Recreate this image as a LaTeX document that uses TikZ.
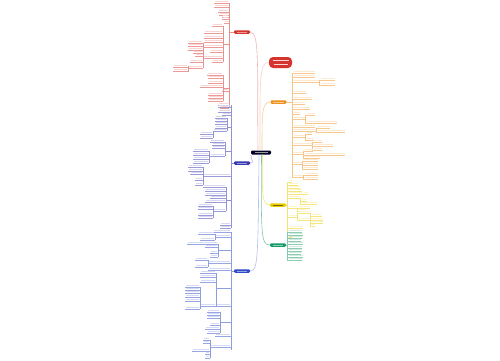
\documentclass[tikz,border=0pt]{standalone}
\definecolor{redc}{RGB}{214,52,46}
\definecolor{bluec}{RGB}{55,55,175}
\definecolor{bluetc}{RGB}{50,75,200}
\definecolor{orc}{RGB}{238,145,30}
\definecolor{yelc}{RGB}{235,205,0}
\definecolor{grc}{RGB}{25,155,105}
\newcommand\LL[4]{\draw[#4!50,line width=0.25pt] (#1,#3) -- (#2,#3);
  \fill[#4!20] (#1+0.5,#3-1.9) rectangle (#2-1.5,#3-0.7);}
\newcommand\RL[4]{\draw[#4!50,line width=0.25pt] (#1,#3) -- (#2,#3);
  \fill[#4!20] (#1+1.5,#3-1.9) rectangle (#2-0.5,#3-0.7);}
\newcommand\SP[4]{\draw[#4!55,line width=0.3pt] (#1,#2) -- (#1,#3);}
\begin{document}
\begin{tikzpicture}[x=1pt,y=-1pt,
  bnode/.style={rounded corners=1.2pt,minimum width=16pt,minimum height=3.5pt,inner sep=0pt},
  conn/.style={line width=0.6pt}]
\useasboundingbox (0,0) rectangle (500,360);
\fill[white] (0,0) rectangle (500,360);

% ---------- main nodes
\node[bnode,fill=black!85!blue,minimum width=20pt,minimum height=4pt] (root) at (261,152.5) {};
\draw[white!60!black,line width=0.35pt] (254.5,152.5) -- (267.5,152.5);
\node[bnode,fill=redc] (red) at (242,32) {};
\node[bnode,fill=orc] (ora) at (278.5,102) {};
\node[bnode,fill=yelc] (yel) at (278,205) {};
\node[bnode,fill=grc] (gre) at (278,245) {};
\node[bnode,fill=bluec] (bl1) at (242,163) {};
\node[bnode,fill=bluetc] (bl2) at (242,271) {};
\node[fill=redc,rounded corners=4pt,minimum width=23pt,minimum height=11pt,inner sep=0pt] (title) at (280.5,62.5) {};
\foreach \n/\c in {red/redc,ora/orc,gre/grc,bl1/bluec,bl2/bluetc}
  \draw[\c!50!white,line width=0.3pt] ([xshift=3pt]\n.west) -- ([xshift=-3pt]\n.east);
\draw[yelc!50!black,line width=0.3pt] ([xshift=3pt]yel.west) -- ([xshift=-3pt]yel.east);
\draw[white!80!redc,line width=0.7pt] (272.5,60.2) -- (288.5,60.2) (273.5,64.6) -- (287.5,64.6);

% ---------- connectors from root
\draw[conn,redc!35] (root.north) ++(-3,0) .. controls (257,70) and (260,32) .. (red.east);
\draw[conn,redc!22] (root.north) ++(-1,0) .. controls (260,80) and (259,62) .. (title.west);
\draw[conn,orc!45] (root.north) ++(1,0) .. controls (262,112) and (262,102) .. (ora.west);
\draw[conn,bluec!35] (root.south west) .. controls (252,162) and (254,163) .. (bl1.east);
\draw[conn,yelc!50] (root.south) ++(1.5,0) .. controls (262,195) and (262,205) .. (yel.west);
\draw[conn,grc!55] (root.south) ++(0.5,0) .. controls (261,235) and (261,245) .. (gre.west);
\draw[conn,bluetc!35] (root.south) ++(-2,0) .. controls (258,260) and (258,271) .. (bl2.east);

% ---------- red subtree
\SP{229}{3}{108}{redc}
\draw[redc!55,line width=0.3pt] (229,32) -- (red.west);
\foreach \a/\b in {214/3,214/7,218/12,219/15,222/17,222/19,224/23,222/91,218/105,220/108} {\LL{\a}{229}{\b}{redc}}
\SP{223}{26}{62}{redc}
\draw[redc!55,line width=0.3pt] (223,44) -- (229,44);
\foreach \a/\b in {212/26,204/33,204/38,204/42,204/47,210/52,212/62} {\LL{\a}{223}{\b}{redc}}
\LL{203}{223}{58}{redc}
\SP{203}{43}{68}{redc}
\foreach \a/\b in {188/43,188/46,188/50,193/53,195/56,190/62,188/68} {\LL{\a}{203}{\b}{redc}}
\SP{188}{66}{72}{redc}
\foreach \a/\b in {173/67,173/71} {\LL{\a}{188}{\b}{redc}}
\SP{223}{75}{101}{redc}
\draw[redc!55,line width=0.3pt] (223,88) -- (229,88);
\foreach \a/\b in {207/75,208/78,208/83,200/87,208/95,208/98,208/101} {\LL{\a}{223}{\b}{redc}}

% ---------- blue subtree 1
\SP{231}{105}{228}{bluec}
\draw[bluec!55,line width=0.3pt] (231,163) -- (bl1.west);
\foreach \a/\b in {218/107,218/112,222/115,203/176,220/225,220/228} {\LL{\a}{231}{\b}{bluec}}
\SP{227}{118}{131}{bluec}
\draw[bluec!55,line width=0.3pt] (227,127) -- (231,127);
\foreach \a/\b in {215/118,215/121,215/124,215/128,213/131} {\LL{\a}{227}{\b}{bluec}}
\SP{213}{131}{138}{bluec}
\foreach \a/\b in {200/134,200/138} {\LL{\a}{213}{\b}{bluec}}
\SP{225}{142}{156}{bluec}
\draw[bluec!55,line width=0.3pt] (225,151) -- (231,151);
\foreach \a/\b in {210/142,212/145,212/148,210/156} {\LL{\a}{225}{\b}{bluec}}
\SP{209}{151}{163}{bluec}
\foreach \a/\b in {193/151,193/155,193/159,193/163} {\LL{\a}{209}{\b}{bluec}}
\SP{203}{167}{185}{bluec}
\foreach \a/\b in {188/167,188/171,190/174,195/180,195/185} {\LL{\a}{203}{\b}{bluec}}
\SP{226}{187}{211}{bluec}
\draw[bluec!55,line width=0.3pt] (226,200) -- (231,200);
\foreach \a/\b in {203/187,205/191,205/195,210/198,205/202,213/211} {\LL{\a}{226}{\b}{bluec}}
\SP{213}{206}{218}{bluec}
\foreach \a/\b in {198/206,198/209,198/215,198/218} {\LL{\a}{213}{\b}{bluec}}

% ---------- blue subtree 2
\SP{231}{232}{350}{bluetc}
\draw[bluetc!55,line width=0.3pt] (231,271) -- (bl2.west);
\foreach \a/\b in {213/232,215/237,208/263,208/270,216/306,215/336,210/347} {\LL{\a}{231}{\b}{bluetc}}
\SP{215}{234}{240}{bluetc}
\foreach \a/\b in {198/234,200/240} {\LL{\a}{215}{\b}{bluetc}}
\SP{218}{244}{257}{bluetc}
\draw[bluetc!55,line width=0.3pt] (218,250) -- (231,250);
\foreach \a/\b in {187/244,205/247,210/253,210/257} {\LL{\a}{218}{\b}{bluetc}}
\SP{208}{260}{267}{bluetc}
\foreach \a/\b in {195/260,195/267} {\LL{\a}{208}{\b}{bluetc}}
\SP{216}{273}{306}{bluetc}
\draw[bluetc!55,line width=0.3pt] (216,288) -- (231,288);
\foreach \a/\b in {200/273,200/277,200/282,200/306} {\LL{\a}{216}{\b}{bluetc}}
\SP{200}{287}{309}{bluetc}
\foreach \a/\b in {185/287,185/290,185/293,185/297,185/301,185/309} {\LL{\a}{200}{\b}{bluetc}}
\SP{220}{312}{333}{bluetc}
\draw[bluetc!55,line width=0.3pt] (220,322) -- (231,322);
\foreach \a/\b in {207/312,207/315,207/318,210/325,205/329,207/333} {\LL{\a}{220}{\b}{bluetc}}
\SP{210}{340}{358}{bluetc}
\foreach \a/\b in {203/340,203/343,192/351,205/354,205/358} {\LL{\a}{210}{\b}{bluetc}}

% ---------- orange subtree
\SP{292}{73}{178}{orc}
\draw[orc!55,line width=0.3pt] (ora.east) -- (292,102);
\foreach \a/\b in {315/73,315/77,319/82,306/93,312/99,305/104,310/109,300/114,305/119,315/127,316/131,305/137,312/145,303/154,302/164,303/177} {\RL{292}{\a}{\b}{orc}}
\SP{319}{80}{85}{orc}
\foreach \a/\b in {335/80,335/85} {\RL{319}{\a}{\b}{orc}}
\SP{305}{115}{123}{orc}
\foreach \a/\b in {315/115,337/123} {\RL{305}{\a}{\b}{orc}}
\SP{316}{128}{132}{orc}
\foreach \a/\b in {330/128,345/132} {\RL{316}{\a}{\b}{orc}}
\SP{305}{134}{140}{orc}
\foreach \a/\b in {312/134,314/140} {\RL{305}{\a}{\b}{orc}}
\SP{312}{142}{150}{orc}
\foreach \a/\b in {322/142,333/146,322/150} {\RL{312}{\a}{\b}{orc}}
\SP{303}{151}{158}{orc}
\foreach \a/\b in {313/151,345/155,320/158} {\RL{303}{\a}{\b}{orc}}
\SP{302}{161}{169}{orc}
\foreach \a/\b in {318/161,318/165,318/169} {\RL{302}{\a}{\b}{orc}}
\SP{303}{175}{179}{orc}
\foreach \a/\b in {318/175,318/179} {\RL{303}{\a}{\b}{orc}}

% ---------- yellow subtree
\SP{287}{182}{237}{yelc}
\draw[yelc!55,line width=0.3pt] (yel.east) -- (287,205);
\foreach \a/\b in {292/182,298/185,300/188,302/191,302/194,300/198,297/208,297/217,303/228,292/237} {\RL{287}{\a}{\b}{yelc}}
\RL{302}{308}{194}{yelc}
\SP{300}{198}{204}{yelc}
\foreach \a/\b in {307/201,317/204} {\RL{300}{\a}{\b}{yelc}}
\SP{297}{208}{211}{yelc}
\foreach \a/\b in {310/208,306/211} {\RL{297}{\a}{\b}{yelc}}
\SP{297}{213}{220}{yelc}
\foreach \a/\b in {310/213,310/220} {\RL{297}{\a}{\b}{yelc}}
\SP{310}{213}{226}{yelc}
\foreach \a/\b in {322/216,323/220,323/223,315/226} {\RL{310}{\a}{\b}{yelc}}

% ---------- green subtree
\SP{287}{232}{260}{grc}
\draw[grc!55,line width=0.3pt] (gre.east) -- (287,245);
\foreach \a/\b in {302/232,303/235,302/238,301/241,303/244,302/248,302/251,301/254,303/257,302/260} {\RL{287}{\a}{\b}{grc}}
\end{tikzpicture}
\end{document}
